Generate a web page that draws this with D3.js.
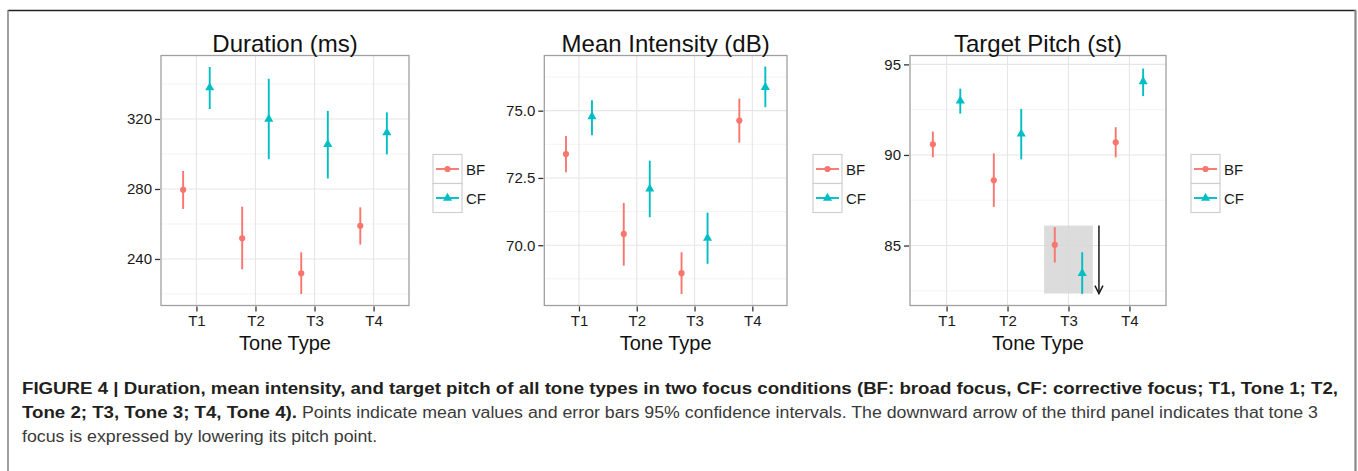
<!DOCTYPE html>
<html><head><meta charset="utf-8">
<script src="https://cdn.jsdelivr.net/npm/d3@7"></script>
<style>
html,body{margin:0;padding:0;background:#fff;}
svg{display:block;font-family:"Liberation Sans",Arial,Helvetica,sans-serif;}
</style></head>
<body>
<svg id="c" width="1358" height="471"></svg>
<script>
// ---------------- data ----------------
const categories = ["T1", "T2", "T3", "T4"];
const groups = ["BF", "CF"];

const durBF = [279.5, 251.8, 231.8, 259.0];
const durBFlo = [268.6, 234.1, 220.0, 248.2];
const durBFhi = [290.3, 269.9, 243.8, 269.5];
const durCF = [337.9, 320.0, 305.5, 312.2];
const durCFlo = [325.7, 297.0, 286.0, 299.8];
const durCFhi = [349.7, 343.0, 324.6, 323.8];

const intBF = [73.39, 70.42, 68.96, 74.63];
const intBFlo = [72.71, 69.24, 68.19, 73.81];
const intBFhi = [74.06, 71.57, 69.74, 75.45];
const intCF = [74.78, 72.09, 70.26, 75.87];
const intCFlo = [74.09, 71.04, 69.31, 75.13];
const intCFhi = [75.39, 73.14, 71.21, 76.64];

const pitBF = [90.59, 88.60, 85.04, 90.70];
const pitBFlo = [89.87, 87.13, 84.06, 89.87];
const pitBFhi = [91.29, 90.09, 86.01, 91.53];
const pitCF = [92.99, 91.16, 83.47, 94.05];
const pitCFlo = [92.28, 89.76, 82.33, 93.25];
const pitCFhi = [93.66, 92.54, 84.63, 94.77];

const durTicks = [240, 280, 320];
const durMinor = [220, 260, 300, 340];
const intTicks = [70.0, 72.5, 75.0];
const intMinor = [68.75, 71.25, 73.75, 76.25];
const pitTicks = [85, 90, 95];
const pitMinor = [82.5, 87.5, 92.5];

const titles = ["Duration (ms)", "Mean Intensity (dB)", "Target Pitch (st)"];
const xTitle = "Tone Type";

// highlight box & arrow (panel 3, T3): y range
const highlightY = [82.35, 86.1];

const captionBold1 = "FIGURE 4 | Duration, mean intensity, and target pitch of all tone types in two focus conditions (BF: broad focus, CF: corrective focus; T1, Tone 1; T2,";
const captionBold2 = "Tone 2; T3, Tone 3; T4, Tone 4).";
const captionReg2 = "Points indicate mean values and error bars 95% confidence intervals. The downward arrow of the third panel indicates that tone 3";
const captionReg3 = "focus is expressed by lowering its pitch point.";

// ---------------- layout ----------------
const colors = {BF: "#F8766D", CF: "#00BFC4"};
const panels = [
  {left: 161, right: 409, top: 55.5, bottom: 305.5, domain: [213.4, 356.3],
   ticks: durTicks, minor: durMinor, fmt: d3.format("d"), legendX: 433,
   series: {BF: [durBF, durBFlo, durBFhi], CF: [durCF, durCFlo, durCFhi]}},
  {left: 544.3, right: 787, top: 55.5, bottom: 305.5, domain: [67.76, 77.05],
   ticks: intTicks, minor: intMinor, fmt: d3.format(".1f"), legendX: 813,
   series: {BF: [intBF, intBFlo, intBFhi], CF: [intCF, intCFlo, intCFhi]}},
  {left: 910, right: 1166, top: 55.5, bottom: 305.5, domain: [81.69, 95.49],
   ticks: pitTicks, minor: pitMinor, fmt: d3.format("d"), legendX: 1191,
   series: {BF: [pitBF, pitBFlo, pitBFhi], CF: [pitCF, pitCFlo, pitCFhi]}}
];

const svg = d3.select("#c");

// outer frame
svg.append("line").attr("x1", 8).attr("x2", 1356).attr("y1", 10.5).attr("y2", 10.5)
  .attr("stroke", "#222").attr("stroke-width", 1.4);
svg.append("line").attr("x1", 8).attr("x2", 8).attr("y1", 10).attr("y2", 471)
  .attr("stroke", "#777").attr("stroke-width", 1.4);
svg.append("line").attr("x1", 1355.5).attr("x2", 1355.5).attr("y1", 10).attr("y2", 471)
  .attr("stroke", "#888").attr("stroke-width", 2.2);

const triangle = d3.symbol().type(d3.symbolTriangle).size(36);
const circle = d3.symbol().type(d3.symbolCircle).size(30);

panels.forEach((p, pi) => {
  const g = svg.append("g");
  const x = d3.scalePoint().domain(categories).range([p.left, p.right]).padding(0.6);
  const y = d3.scaleLinear().domain(p.domain).range([p.bottom, p.top]);
  const dodge = x.step() * 0.225;

  // minor grid
  g.selectAll(".mn").data(p.minor).join("line")
    .attr("x1", p.left).attr("x2", p.right)
    .attr("y1", d => y(d)).attr("y2", d => y(d))
    .attr("stroke", "#f3f3f3").attr("stroke-width", 1);
  // major grid
  g.selectAll(".mjy").data(p.ticks).join("line")
    .attr("x1", p.left).attr("x2", p.right)
    .attr("y1", d => y(d)).attr("y2", d => y(d))
    .attr("stroke", "#e6e6e6").attr("stroke-width", 1.1);
  g.selectAll(".mjx").data(categories).join("line")
    .attr("x1", d => x(d)).attr("x2", d => x(d))
    .attr("y1", p.top).attr("y2", p.bottom)
    .attr("stroke", "#e6e6e6").attr("stroke-width", 1.1);

  // highlight box + arrow in panel 3
  if (pi === 2) {
    const cx = x("T3");
    g.append("rect")
      .attr("x", cx - 0.4 * x.step()).attr("width", 0.8 * x.step())
      .attr("y", y(highlightY[1])).attr("height", y(highlightY[0]) - y(highlightY[1]))
      .attr("fill", "#d6d6d6").attr("opacity", 0.85);
    const ax = cx + 0.5 * x.step();
    const y0 = y(highlightY[1]), y1 = y(highlightY[0]);
    g.append("line").attr("x1", ax).attr("x2", ax).attr("y1", y0).attr("y2", y1)
      .attr("stroke", "#1a1a1a").attr("stroke-width", 1.5);
    g.append("path")
      .attr("d", `M${ax - 4},${y1 - 8}L${ax},${y1}L${ax + 4},${y1 - 8}`)
      .attr("fill", "none").attr("stroke", "#1a1a1a").attr("stroke-width", 1.5);
  }

  // panel border
  g.append("rect").attr("x", p.left).attr("y", p.top)
    .attr("width", p.right - p.left).attr("height", p.bottom - p.top)
    .attr("fill", "none").attr("stroke", "#a0a0a0").attr("stroke-width", 1.3);

  // error bars + points
  groups.forEach(gr => {
    const [m, lo, hi] = p.series[gr];
    const off = gr === "BF" ? -dodge : dodge;
    g.selectAll(".eb" + gr).data(categories).join("line")
      .attr("x1", (d) => x(d) + off).attr("x2", (d) => x(d) + off)
      .attr("y1", (d, i) => y(lo[i])).attr("y2", (d, i) => y(hi[i]))
      .attr("stroke", colors[gr]).attr("stroke-width", 1.9);
    g.selectAll(".pt" + gr).data(categories).join("path")
      .attr("transform", (d, i) => `translate(${x(d) + off},${y(m[i])})`)
      .attr("d", gr === "BF" ? circle() : triangle())
      .attr("fill", colors[gr]);
  });

  // axes
  const yAxis = d3.axisLeft(y).tickValues(p.ticks).tickFormat(p.fmt).tickSize(5).tickPadding(3);
  const ya = g.append("g").attr("transform", `translate(${p.left - 1},0)`).call(yAxis);
  ya.select(".domain").remove();
  ya.selectAll("line").attr("stroke", "#333").attr("stroke-width", 1.3);
  ya.selectAll("text").attr("font-size", 15).attr("fill", "#1a1a1a")
    .attr("font-family", "Liberation Sans, Arial, sans-serif");

  const xAxis = d3.axisBottom(x).tickSize(5).tickPadding(4);
  const xa = g.append("g").attr("transform", `translate(0,${p.bottom + 1})`).call(xAxis);
  xa.select(".domain").remove();
  xa.selectAll("line").attr("stroke", "#333").attr("stroke-width", 1.3);
  xa.selectAll("text").attr("font-size", 15).attr("fill", "#1a1a1a")
    .attr("font-family", "Liberation Sans, Arial, sans-serif");

  // titles
  const cxp = (p.left + p.right) / 2;
  g.append("text").attr("x", cxp).attr("y", 51.5).attr("text-anchor", "middle")
    .attr("font-size", 24).attr("fill", "#111").text(titles[pi]);
  g.append("text").attr("x", cxp).attr("y", 350).attr("text-anchor", "middle")
    .attr("font-size", 20).attr("fill", "#111").text(xTitle);

  // legend
  const lx = p.legendX, ly = 154.5, ks = 29;
  groups.forEach((gr, gi) => {
    const ky = ly + gi * ks;
    g.append("rect").attr("x", lx).attr("y", ky).attr("width", ks).attr("height", ks)
      .attr("fill", "#fff").attr("stroke", "#cfcfcf").attr("stroke-width", 1.2);
    g.append("line").attr("x1", lx + 3).attr("x2", lx + ks - 3)
      .attr("y1", ky + ks / 2).attr("y2", ky + ks / 2)
      .attr("stroke", colors[gr]).attr("stroke-width", 1.9);
    g.append("path").attr("transform", `translate(${lx + ks / 2},${ky + ks / 2})`)
      .attr("d", gr === "BF" ? circle() : triangle()).attr("fill", colors[gr]);
    g.append("text").attr("x", lx + ks + 4).attr("y", ky + ks / 2 + 5.5)
      .attr("font-size", 15).attr("fill", "#1a1a1a").text(gr);
  });
});

// caption: same horizontal stretch for all runs of a weight
const cap = svg.append("g").attr("fill", "#231f20")
  .attr("font-family", "Liberation Sans, Arial, sans-serif").attr("font-size", 16);
const b1 = cap.append("text").attr("x", 22).attr("y", 394).attr("font-weight", "bold").text(captionBold1);
const kb = 1316 / b1.node().getComputedTextLength();
b1.attr("textLength", 1316).attr("lengthAdjust", "spacingAndGlyphs");
const b2 = cap.append("text").attr("x", 22).attr("y", 418).attr("font-weight", "bold").text(captionBold2);
const w2 = b2.node().getComputedTextLength() * kb;
b2.attr("textLength", w2).attr("lengthAdjust", "spacingAndGlyphs");
const r2x = 22 + w2 + 5;
const r2 = cap.append("text").attr("x", r2x).attr("y", 418).attr("fill", "#3a3a3a").text(captionReg2);
const kr = (1318 - r2x) / r2.node().getComputedTextLength();
r2.attr("textLength", 1318 - r2x).attr("lengthAdjust", "spacingAndGlyphs");
const r3 = cap.append("text").attr("x", 22).attr("y", 442).attr("fill", "#3a3a3a").text(captionReg3);
r3.attr("textLength", r3.node().getComputedTextLength() * kr).attr("lengthAdjust", "spacingAndGlyphs");
</script>
</body></html>
